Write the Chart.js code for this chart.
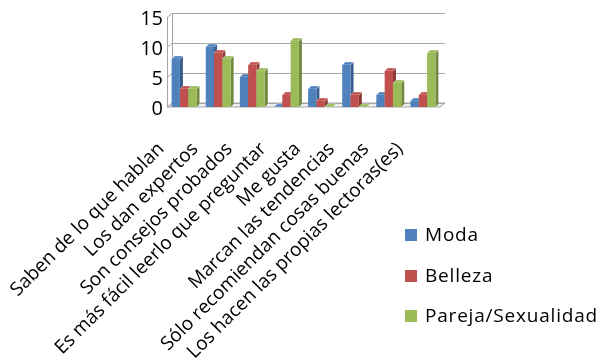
<!DOCTYPE html>
<html lang="es">
<head>
<meta charset="UTF-8">
<title>Motivos por sección</title>
<script src="https://cdn.jsdelivr.net/npm/chart.js"></script>
<style>
    body { margin: 0; background: #ffffff; }
    .wrap { width: 601px; height: 360px; }
</style>
</head>
<body>
<div class="wrap"><canvas id="motivosChart" width="601" height="360"></canvas></div>
<script>
    const motivos = [
        'Saben de lo que hablan',
        'Los dan expertos',
        'Son consejos probados',
        'Es más fácil leerlo que preguntar',
        'Me gusta',
        'Marcan las tendencias',
        'Sólo recomiendan cosas buenas',
        'Los hacen las propias lectoras(es)'
    ];
    const moda = [8, 10, 5, 0, 3, 7, 2, 1];
    const belleza = [3, 9, 7, 2, 1, 2, 6, 2];
    const pareja = [3, 8, 6, 11, 0, 0, 4, 9];
    const escalaY = [0, 5, 10, 15];

    const FUENTE = "'Open Sans', 'Liberation Sans', sans-serif";

    // front colour, side colour
    const colores = {
        Moda: ['#4f81bd', '#385d8a'],
        Belleza: ['#c0504d', '#8c3836'],
        'Pareja/Sexualidad': ['#9bbb59', '#71893f']
    };

    // draws the 3D box (floor, walls, grid) and the bars with depth
    const barras3d = {
        id: 'barras3d',
        beforeDatasetsDraw(chart) {
            const ctx = chart.ctx;
            const a = chart.chartArea;
            const ys = chart.scales.y;
            const dx = 5, dy = 4;
            ctx.save();

            // floor
            ctx.beginPath();
            ctx.moveTo(a.left, a.bottom);
            ctx.lineTo(a.left + dx, a.bottom - dy);
            ctx.lineTo(a.right + dx, a.bottom - dy);
            ctx.lineTo(a.right, a.bottom);
            ctx.closePath();
            ctx.fillStyle = '#eeeeee';
            ctx.fill();
            ctx.strokeStyle = '#a6a6a6';
            ctx.lineWidth = 1;
            ctx.stroke();

            // left wall
            ctx.beginPath();
            ctx.moveTo(a.left + 0.5, a.bottom);
            ctx.lineTo(a.left + 0.5, a.top);
            ctx.moveTo(a.left + dx + 0.5, a.bottom - dy);
            ctx.lineTo(a.left + dx + 0.5, a.top - dy);
            ctx.stroke();

            // grid lines across the left and back walls
            ys.ticks.forEach(t => {
                const y = Math.round(ys.getPixelForValue(t.value)) + 0.5;
                ctx.beginPath();
                ctx.moveTo(a.left, y);
                ctx.lineTo(a.left + dx, y - dy);
                ctx.lineTo(a.right + dx, y - dy);
                ctx.stroke();
            });

            // bars, category by category so each one covers the side of its left neighbour
            const metas = chart.data.datasets.map((d, i) => chart.getDatasetMeta(i));
            const bx = 3, by = 3;
            for (let j = 0; j < chart.data.labels.length; j++) {
                metas.forEach((meta, i) => {
                    const el = meta.data[j];
                    const c = colores[chart.data.datasets[i].label];
                    const l = el.x - el.width / 2;
                    const r = el.x + el.width / 2;
                    const top = el.y;
                    const base = el.base;

                    // side
                    ctx.beginPath();
                    ctx.moveTo(r, top);
                    ctx.lineTo(r + bx, top - by);
                    ctx.lineTo(r + bx, base - by);
                    ctx.lineTo(r, base);
                    ctx.closePath();
                    ctx.fillStyle = c[1];
                    ctx.fill();

                    // top
                    ctx.beginPath();
                    ctx.moveTo(l, top);
                    ctx.lineTo(l + bx, top - by);
                    ctx.lineTo(r + bx, top - by);
                    ctx.lineTo(r, top);
                    ctx.closePath();
                    ctx.fillStyle = c[0];
                    ctx.fill();
                    ctx.strokeStyle = 'rgba(255,255,255,0.35)';
                    ctx.stroke();

                    // front
                    if (base - top > 0.5) {
                        ctx.fillStyle = c[0];
                        ctx.fillRect(l, top, r - l, base - top);
                    }
                });
            }
            ctx.restore();
            return false;
        }
    };

    // legend on the lower right
    const leyenda = {
        id: 'leyenda',
        afterDraw(chart) {
            const ctx = chart.ctx;
            const filas = [235, 276, 316];
            ctx.save();
            ctx.font = '19px ' + FUENTE;
            ctx.letterSpacing = '0.8px';
            ctx.textBaseline = 'middle';
            chart.data.datasets.forEach((ds, i) => {
                ctx.fillStyle = colores[ds.label][0];
                ctx.fillRect(405, filas[i] - 6, 12, 12);
                ctx.fillStyle = '#000000';
                ctx.fillText(ds.label, 425, filas[i] + 1);
            });
            ctx.restore();
        }
    };

    new Chart(document.getElementById('motivosChart'), {
        type: 'bar',
        data: {
            labels: motivos,
            datasets: [
                { label: 'Moda', data: moda, backgroundColor: colores.Moda[0] },
                { label: 'Belleza', data: belleza, backgroundColor: colores.Belleza[0] },
                { label: 'Pareja/Sexualidad', data: pareja, backgroundColor: colores['Pareja/Sexualidad'][0] }
            ]
        },
        options: {
            responsive: false,
            animation: false,
            layout: { padding: { left: 127, right: 161, top: 17, bottom: 0 } },
            datasets: { bar: { categoryPercentage: 0.73, barPercentage: 1 } },
            plugins: {
                legend: { display: false },
                tooltip: { enabled: false }
            },
            scales: {
                x: {
                    grid: { display: false },
                    border: { display: false },
                    ticks: {
                        color: '#000000',
                        font: { family: FUENTE, size: 19 },
                        minRotation: 45,
                        maxRotation: 45,
                        autoSkip: false,
                        padding: 23,
                        labelOffset: -23
                    },
                    afterFit(scale) {
                        scale.height = 253;
                        scale.paddingLeft = 0;
                        scale.paddingRight = 0;
                    }
                },
                y: {
                    min: 0,
                    max: 15,
                    grid: { display: false, drawTicks: false },
                    border: { display: false },
                    ticks: {
                        color: '#000000',
                        font: { family: FUENTE, size: 20 },
                        padding: 4,
                        labelOffset: 2
                    },
                    afterBuildTicks(scale) {
                        scale.ticks = escalaY.map(v => ({ value: v }));
                    },
                    afterFit(scale) {
                        scale.width = 40;
                        scale.paddingTop = 0;
                        scale.paddingBottom = 0;
                    }
                }
            }
        },
        plugins: [barras3d, leyenda]
    });
</script>
</body>
</html>
